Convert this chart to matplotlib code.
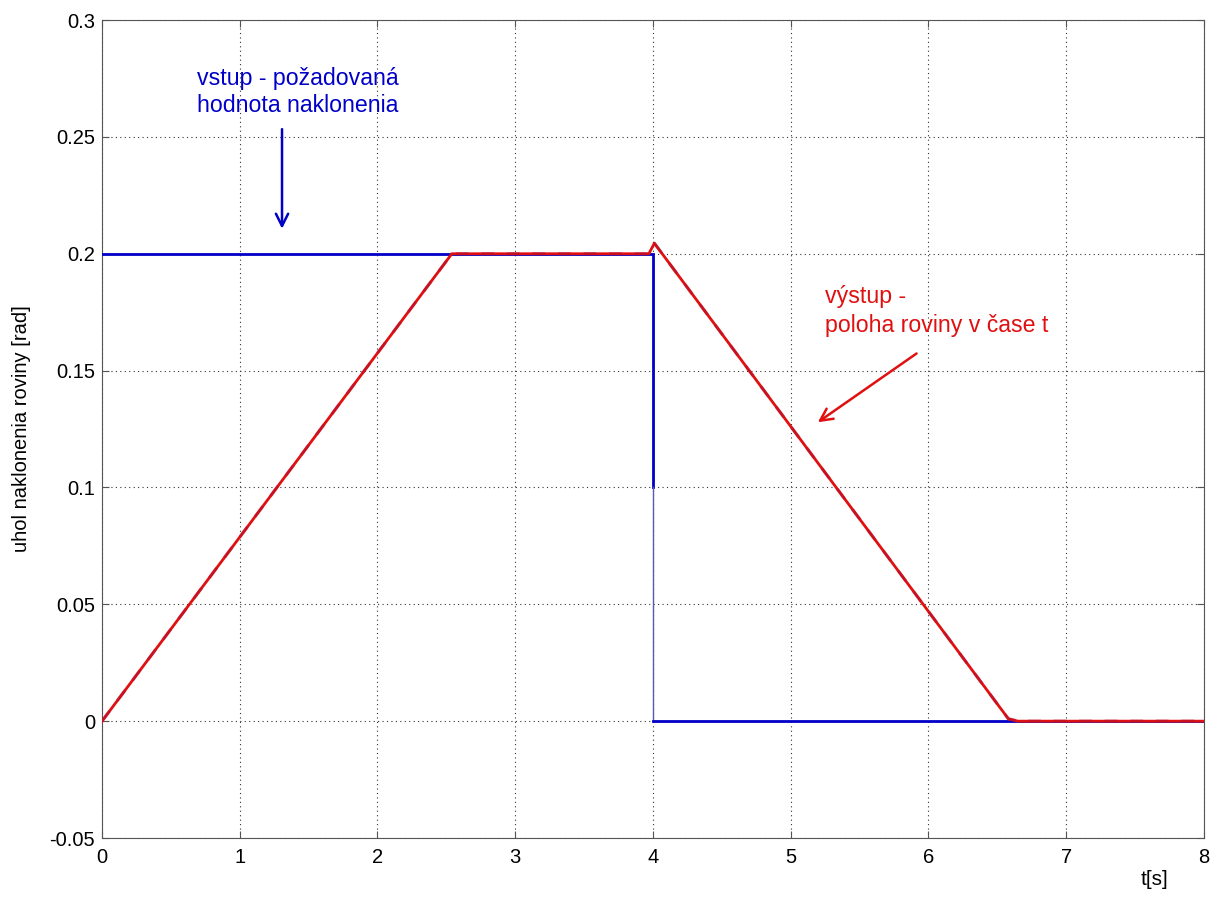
import matplotlib
matplotlib.use("Agg")
import matplotlib.pyplot as plt

plt.rcParams['font.family'] = ['Liberation Sans', 'DejaVu Sans']

# input signal (desired tilt)
t_in = [0.0, 4.0, 4.0, 4.0, 8.0]
y_in = [0.2, 0.2, 0.1, 0.0, 0.0]

# output signal (plane position)
t_out = [0.0, 2.54, 3.97, 4.01, 6.58, 6.65, 8.0]
y_out = [0.0, 0.2, 0.2, 0.2045, 0.001, 0.0, 0.0]

x_ticks = [0, 1, 2, 3, 4, 5, 6, 7, 8]
y_ticks = [-0.05, 0.0, 0.05, 0.1, 0.15, 0.2, 0.25, 0.3]
y_tick_labels = ['-0.05', '0', '0.05', '0.1', '0.15', '0.2', '0.25', '0.3']

fig = plt.figure(figsize=(12.17, 8.98), dpi=100)
ax = fig.add_axes([0.0838, 0.0668, 0.9055, 0.9109])

blue = '#0000c8'
red = '#e01010'

# blue step: thick upper part, thin lower part of the drop
ax.plot(t_in[:3], y_in[:3], color=blue, lw=2.0, zorder=3, solid_joinstyle='miter')
ax.plot(t_in[2:4], y_in[2:4], color='#5a5ab4', lw=1.0, zorder=3)
ax.plot(t_in[3:], y_in[3:], color=blue, lw=2.0, zorder=3)

ax.plot(t_out, y_out, color=red, lw=2.0, zorder=4)
ax.plot(t_out, y_out, color='#b01030', lw=2.3, ls=(0, (4, 4)), alpha=0.5, zorder=5)

ax.set_xlim(0, 8)
ax.set_ylim(-0.05, 0.3)
ax.set_xticks(x_ticks)
ax.set_yticks(y_ticks)
ax.set_yticklabels(y_tick_labels)
ax.tick_params(direction='in', labelsize=14.5, length=5, color='#555555',
               top=True, right=True)
ax.tick_params(axis='x', pad=7)
ax.tick_params(axis='y', pad=5)
for s in ax.spines.values():
    s.set_color('#555555')
ax.grid(True, ls=(0, (1, 3)), color='#333333', lw=0.8)

ax.set_ylabel('uhol naklonenia roviny [rad]', fontsize=14.5)
ax.yaxis.set_label_coords(-0.064, 0.5)
ax.text(7.74, -0.0700, 't[s]', fontsize=15, ha='right', va='baseline')

ax.text(0.69, 0.2722, 'vstup - požadovaná', color=blue,
        fontsize=16.7, ha='left', va='baseline')
ax.text(0.69, 0.2606, 'hodnota naklonenia', color=blue,
        fontsize=16.7, ha='left', va='baseline')
ax.annotate('', xy=(1.307, 0.2095), xytext=(1.307, 0.2545),
            arrowprops=dict(arrowstyle='->', color=blue, lw=1.8,
                            mutation_scale=22))

ax.text(5.25, 0.1789, 'výstup -', color=red,
        fontsize=16.7, ha='left', va='baseline')
ax.text(5.25, 0.1665, 'poloha roviny v čase t', color=red,
        fontsize=16.7, ha='left', va='baseline')
ax.annotate('', xy=(5.18, 0.1272), xytext=(5.93, 0.158),
            arrowprops=dict(arrowstyle='->', color=red, lw=1.8,
                            mutation_scale=22))

fig.savefig('out.png', dpi=100, facecolor='white')
